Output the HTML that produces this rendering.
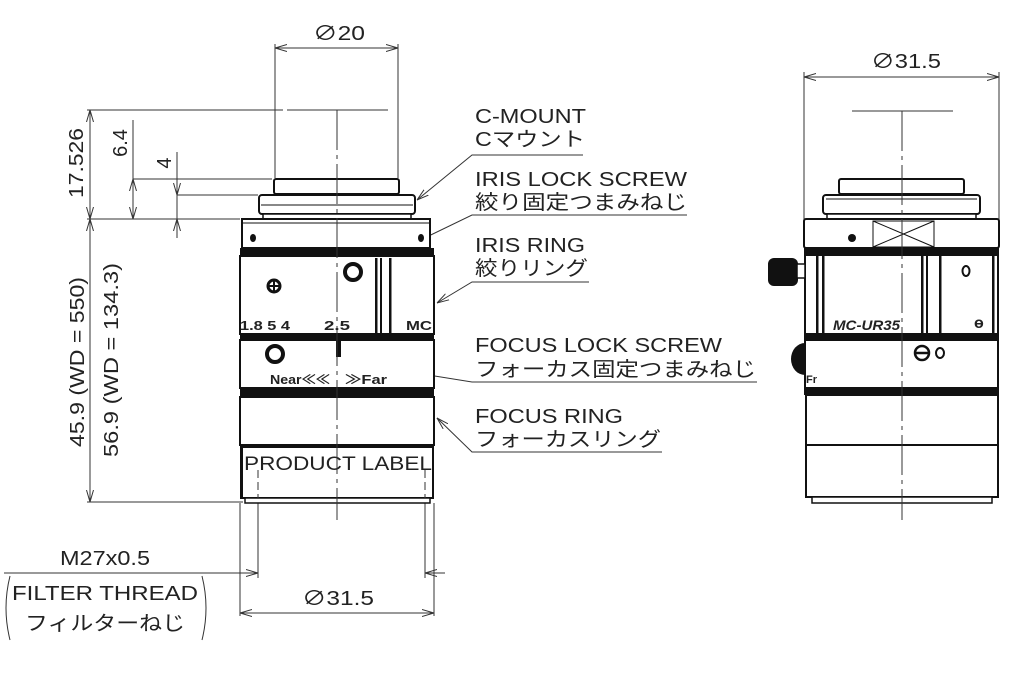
<!DOCTYPE html>
<html><head><meta charset="utf-8"><style>
html,body{margin:0;padding:0;background:#fff;}
svg{display:block;}
text{font-family:"Liberation Sans","Noto Sans CJK JP",sans-serif;fill:#222;}
</style></head><body>
<svg width="1023" height="684" viewBox="0 0 1023 684" xmlns="http://www.w3.org/2000/svg">
<defs>
<marker id="a" viewBox="0 0 12 8" refX="12" refY="4" markerWidth="12" markerHeight="8" markerUnits="userSpaceOnUse" orient="auto-start-reverse">
<path d="M0,0.5 L12,4 L0,7.5" fill="none" stroke="#333" stroke-width="1"/>
</marker>
</defs>
<g stroke="#333" stroke-width="1" fill="none">
<line x1="275" y1="44" x2="275" y2="178"/>
<line x1="398" y1="44" x2="398" y2="178"/>
<line x1="275" y1="48" x2="398" y2="48" marker-start="url(#a)" marker-end="url(#a)"/>
<line x1="87" y1="110" x2="283" y2="110"/>
<line x1="287" y1="110" x2="388" y2="110"/>
<line x1="90" y1="110" x2="90" y2="219" marker-start="url(#a)" marker-end="url(#a)"/>
<line x1="133" y1="120" x2="133" y2="219"/>
<line x1="133" y1="179" x2="133" y2="219" marker-start="url(#a)" marker-end="url(#a)"/>
<line x1="133" y1="179" x2="272" y2="179"/>
<line x1="177" y1="152" x2="177" y2="238"/>
<line x1="177" y1="181" x2="177" y2="195" marker-end="url(#a)"/>
<line x1="177" y1="233" x2="177" y2="219" marker-end="url(#a)"/>
<line x1="177" y1="195" x2="258" y2="195"/>
<line x1="87" y1="219" x2="240" y2="219"/>
<line x1="90" y1="219" x2="90" y2="502" marker-start="url(#a)" marker-end="url(#a)"/>
<line x1="87" y1="502" x2="243" y2="502"/>
<line x1="240" y1="503" x2="240" y2="616"/>
<line x1="434" y1="503" x2="434" y2="616"/>
<line x1="258" y1="503" x2="258" y2="578"/>
<line x1="425" y1="503" x2="425" y2="578"/>
<line x1="4" y1="573" x2="258" y2="573" marker-end="url(#a)"/>
<line x1="445" y1="573" x2="425" y2="573" marker-end="url(#a)"/>
<line x1="240" y1="613" x2="434" y2="613" marker-start="url(#a)" marker-end="url(#a)"/>
<polyline points="583,155 472,155 417,200" marker-end="url(#a)"/>
<polyline points="687,215 472,215 408,246"/>
<polyline points="589,282 472,282 437,303" marker-end="url(#a)"/>
<polyline points="757,382 472,382 298,354" marker-end="url(#a)"/>
<polyline points="662,452 472,452 437,418" marker-end="url(#a)"/>
<line x1="804" y1="72" x2="804" y2="220"/>
<line x1="999" y1="72" x2="999" y2="220"/>
<line x1="804" y1="77" x2="999" y2="77" marker-start="url(#a)" marker-end="url(#a)"/>
<line x1="852" y1="111" x2="953" y2="111"/>
</g>

<g stroke="#111" fill="#fff" stroke-width="2">
<rect x="274" y="179" width="125" height="15" rx="2"/>
<rect x="259" y="195" width="156" height="19" rx="3"/>
<line x1="261" y1="205" x2="413" y2="205" stroke-width="1"/>
<rect x="263" y="214" width="148" height="5" stroke-width="1.5"/>
<rect x="242" y="219" width="188" height="29"/>
<line x1="243" y1="223" x2="429" y2="223" stroke-width="1"/>
<rect x="240" y="256" width="194" height="78"/>
<rect x="240" y="340" width="194" height="48"/>
<rect x="240" y="397" width="194" height="48"/>
<rect x="241" y="447" width="192" height="51"/>
<rect x="245" y="498" width="185" height="5" stroke-width="1.5"/>
</g>
<g fill="#111">
<rect x="240" y="248" width="194" height="8"/>
<rect x="240" y="333" width="194" height="7"/>
<rect x="240" y="388" width="194" height="9"/>
<rect x="240" y="447" width="3" height="51"/>
<ellipse cx="253" cy="238" rx="3" ry="4"/>
<ellipse cx="421" cy="238" rx="3" ry="4"/>
<rect x="375" y="258" width="2.5" height="76"/>
<rect x="380" y="258" width="2" height="76"/>
<rect x="389" y="258" width="2.5" height="76"/>
<rect x="336" y="340" width="5" height="17"/>
</g>
<g stroke="#333" stroke-width="1">
<line x1="258" y1="470" x2="258" y2="498" stroke-dasharray="8,4"/>
<line x1="425" y1="470" x2="425" y2="498" stroke-dasharray="8,4"/>
</g>
<circle cx="353" cy="272" r="8" fill="#fff" stroke="#111" stroke-width="4"/>
<circle cx="275" cy="354" r="8" fill="#fff" stroke="#111" stroke-width="4"/>
<circle cx="274" cy="286" r="6" fill="#fff" stroke="#111" stroke-width="3"/>
<path d="M268,286 H280 M274,280 V292" stroke="#111" stroke-width="2"/>
<g font-weight="bold" font-size="13">
<text x="240" y="330" textLength="50" lengthAdjust="spacingAndGlyphs">1.8 5  4</text>
<text x="324" y="330" textLength="26" lengthAdjust="spacingAndGlyphs">2.5</text>
<text x="406" y="330" textLength="26" lengthAdjust="spacingAndGlyphs">MC</text>
<text x="270" y="384" textLength="60" lengthAdjust="spacingAndGlyphs">Near≪≪</text>
<text x="345" y="384" textLength="42" lengthAdjust="spacingAndGlyphs">≫Far</text>
</g>
<text x="244" y="470" font-size="19" textLength="188" lengthAdjust="spacingAndGlyphs">PRODUCT LABEL</text>

<g stroke="#111" fill="#fff" stroke-width="2">
<rect x="839" y="179" width="125" height="15" rx="2"/>
<rect x="823" y="195" width="157" height="19" rx="3"/>
<line x1="826" y1="199" x2="977" y2="199" stroke-width="1"/>
<rect x="827" y="214" width="149" height="5" stroke-width="1.5"/>
<rect x="804" y="219" width="195" height="29" rx="2"/>
<rect x="805" y="255" width="193" height="79"/>
<rect x="805" y="340" width="193" height="48"/>
<rect x="806" y="395" width="192" height="50"/>
<rect x="806" y="445" width="192" height="52"/>
<rect x="812" y="497" width="180" height="6" stroke-width="1.5"/>
</g>
<g stroke="#111" stroke-width="1" fill="none">
<path d="M873,221 L934,221 L934,247 L873,247 Z M873,221 L934,247 M934,221 L873,247"/>
</g>
<g fill="#111">
<rect x="804" y="247" width="195" height="8"/>
<rect x="804" y="333" width="195" height="7"/>
<rect x="804" y="388" width="195" height="7"/>
<circle cx="852" cy="238" r="4"/>
<rect x="816" y="256" width="2.5" height="78"/>
<rect x="822" y="256" width="2.5" height="78"/>
<rect x="921" y="256" width="2.5" height="78"/>
<rect x="926" y="256" width="2" height="78"/>
<rect x="939" y="256" width="2.5" height="78"/>
<rect x="992" y="256" width="2.5" height="78"/>
<rect x="768" y="258" width="30" height="28" rx="6"/>
<path d="M805,343 A14,16 0 0 0 805,375 Z"/>
</g>
<rect x="797" y="264" width="8" height="14" fill="#fff" stroke="#111" stroke-width="1.5"/>
<ellipse cx="966" cy="271" rx="3.5" ry="5" fill="none" stroke="#111" stroke-width="2"/>
<text x="974" y="328" font-size="16" font-weight="bold">ɵ</text>
<text x="833" y="330" font-size="14" font-weight="bold" font-style="italic" textLength="67" lengthAdjust="spacingAndGlyphs">MC-UR35</text>
<circle cx="922" cy="353" r="7" fill="none" stroke="#111" stroke-width="2.5"/>
<line x1="915" y1="353" x2="929" y2="353" stroke="#111" stroke-width="2.5"/>
<ellipse cx="940" cy="353" rx="4" ry="5" fill="none" stroke="#111" stroke-width="2"/>
<text x="806" y="383" font-size="11" font-weight="bold">Fr</text>

<!-- centerlines on top -->
<g stroke="#333" stroke-width="1">
<line x1="337" y1="110" x2="337" y2="520" stroke-dasharray="40,5,4,5"/>
<line x1="902" y1="111" x2="902" y2="520" stroke-dasharray="40,5,4,5"/>
</g>

<g font-size="20">
<text x="313" y="40" textLength="52" lengthAdjust="spacingAndGlyphs">∅20</text>
<text x="871" y="68" textLength="70" lengthAdjust="spacingAndGlyphs">∅31.5</text>
<text x="302" y="605" textLength="72" lengthAdjust="spacingAndGlyphs">∅31.5</text>
<text transform="translate(83,163) rotate(-90)" text-anchor="middle" textLength="70" lengthAdjust="spacingAndGlyphs">17.526</text>
<text transform="translate(127,143) rotate(-90)" text-anchor="middle">6.4</text>
<text transform="translate(171,163) rotate(-90)" text-anchor="middle">4</text>
<text transform="translate(84,362) rotate(-90)" text-anchor="middle" textLength="170" lengthAdjust="spacingAndGlyphs">45.9 (WD = 550)</text>
<text transform="translate(118,360) rotate(-90)" text-anchor="middle" textLength="194" lengthAdjust="spacingAndGlyphs">56.9 (WD = 134.3)</text>
<text x="60" y="565" textLength="90" lengthAdjust="spacingAndGlyphs">M27x0.5</text>
<text x="12" y="600" textLength="186" lengthAdjust="spacingAndGlyphs">FILTER THREAD</text>
<text x="25" y="630" textLength="160" lengthAdjust="spacingAndGlyphs">フィルターねじ</text>
<text x="475" y="123" textLength="111" lengthAdjust="spacingAndGlyphs">C-MOUNT</text>
<text x="475" y="146" textLength="110" lengthAdjust="spacingAndGlyphs">Cマウント</text>
<text x="475" y="186" textLength="212" lengthAdjust="spacingAndGlyphs">IRIS LOCK SCREW</text>
<text x="475" y="209" textLength="212" lengthAdjust="spacingAndGlyphs">絞り固定つまみねじ</text>
<text x="475" y="252" textLength="110" lengthAdjust="spacingAndGlyphs">IRIS RING</text>
<text x="475" y="275" textLength="113" lengthAdjust="spacingAndGlyphs">絞りリング</text>
<text x="475" y="352" textLength="247" lengthAdjust="spacingAndGlyphs">FOCUS LOCK SCREW</text>
<text x="475" y="376" textLength="281" lengthAdjust="spacingAndGlyphs">フォーカス固定つまみねじ</text>
<text x="475" y="423" textLength="148" lengthAdjust="spacingAndGlyphs">FOCUS RING</text>
<text x="475" y="446" textLength="186" lengthAdjust="spacingAndGlyphs">フォーカスリング</text>
</g>
<g fill="none" stroke="#333" stroke-width="1">
<path d="M10,576 Q2,608 10,640"/>
<path d="M202,576 Q210,608 202,640"/>
</g>
</svg>
</body></html>
